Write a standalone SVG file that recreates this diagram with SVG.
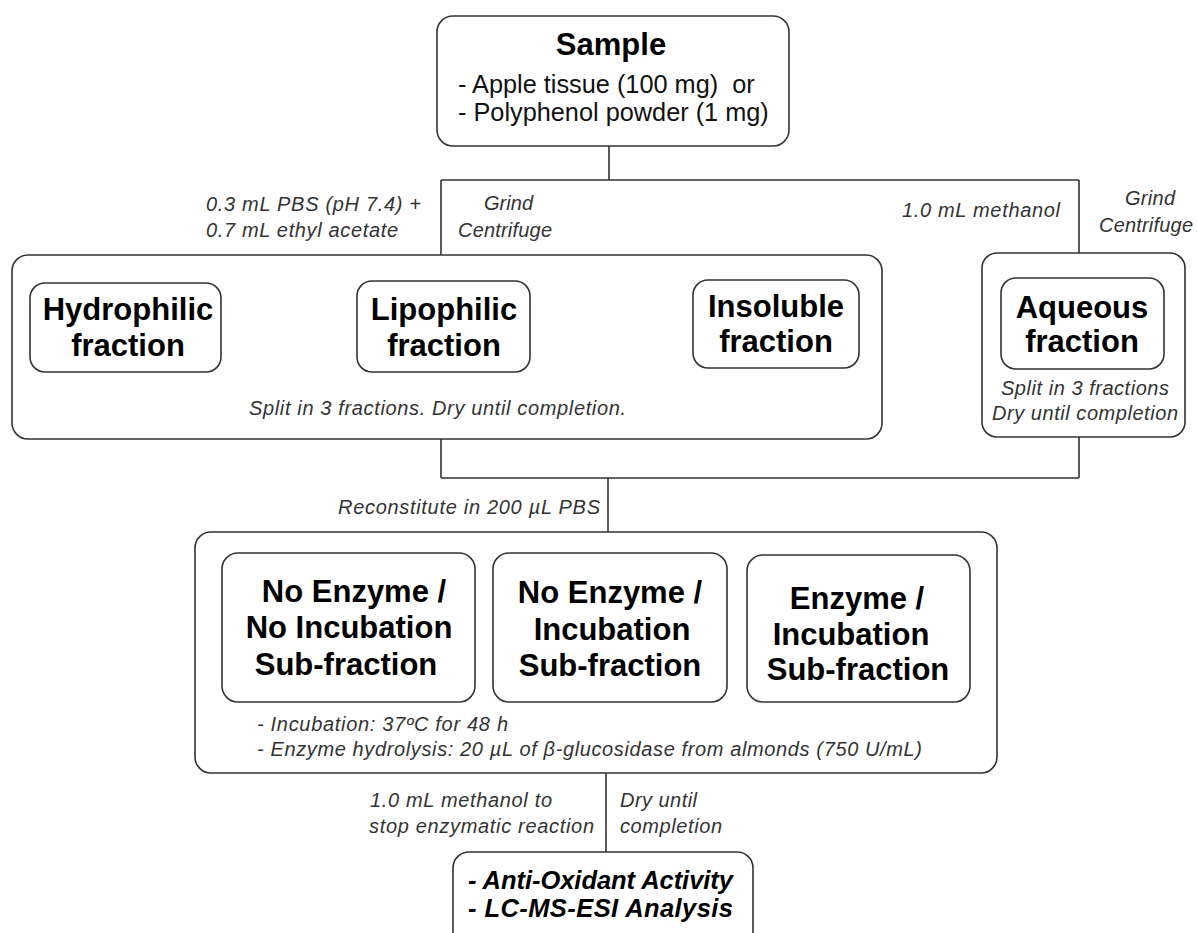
<svg xmlns="http://www.w3.org/2000/svg" width="1197" height="933" viewBox="0 0 1197 933">
<style>
.box{fill:#fff;stroke:#333;stroke-width:1.6}
.ln{fill:none;stroke:#333;stroke-width:1.6}
.b{font-family:"Liberation Sans",Arial,sans-serif;font-weight:bold;font-size:31px;fill:#000;text-anchor:middle}
.r{font-family:"Liberation Sans",Arial,sans-serif;font-size:25.3px;fill:#111}
.i{font-family:"Liberation Sans",Arial,sans-serif;font-style:italic;font-size:20px;fill:#333}
.bi{font-family:"Liberation Sans",Arial,sans-serif;font-style:italic;font-weight:bold;font-size:25.5px;fill:#000}
</style>
<rect width="1197" height="933" fill="#fff"/>
<g id="connectors">
<path class="ln" d="M609 146V180M441 180H1079M441 180V255M1079 180V253"/>
<path class="ln" d="M441 439V478M1079 437V478M441 478H1079M608 478V532"/>
<path class="ln" d="M606 773V852"/>
</g>
<g id="labels">
<text class="i" x="206" y="211" textLength="215" lengthAdjust="spacing">0.3 mL PBS (pH 7.4) +</text>
<text class="i" x="206" y="237" textLength="192" lengthAdjust="spacing">0.7 mL ethyl acetate</text>
<text class="i" x="484" y="210" textLength="49" lengthAdjust="spacing">Grind</text>
<text class="i" x="458" y="237" textLength="94" lengthAdjust="spacing">Centrifuge</text>
<text class="i" x="902" y="217" textLength="158" lengthAdjust="spacing">1.0 mL methanol</text>
<text class="i" x="1125" y="205" textLength="50" lengthAdjust="spacing">Grind</text>
<text class="i" x="1099" y="232" textLength="94" lengthAdjust="spacing">Centrifuge</text>
<text class="i" x="338" y="514" textLength="262" lengthAdjust="spacing">Reconstitute in 200 µL PBS</text>
<text class="i" x="370" y="807" textLength="182" lengthAdjust="spacing">1.0 mL methanol to</text>
<text class="i" x="369" y="833" textLength="225" lengthAdjust="spacing">stop enzymatic reaction</text>
<text class="i" x="620" y="807" textLength="77" lengthAdjust="spacing">Dry until</text>
<text class="i" x="620" y="833" textLength="102" lengthAdjust="spacing">completion</text>
</g>
<g id="sample">
<rect class="box" x="437" y="16" width="352" height="130" rx="16"/>
<text class="b" x="611" y="55">Sample</text>
<text class="r" x="458" y="93" xml:space="preserve">- Apple tissue (100 mg)  or</text>
<text class="r" x="458" y="121">- Polyphenol powder (1 mg)</text>
</g>
<g id="extraction">
<rect class="box" x="12" y="255" width="870" height="184" rx="16"/>
<text class="i" x="249" y="415" textLength="377" lengthAdjust="spacing">Split in 3 fractions. Dry until completion.</text>
</g>
<g id="hydrophilic">
<rect class="box" x="30" y="283" width="191" height="89" rx="15"/>
<text class="b" x="128" y="320">Hydrophilic</text>
<text class="b" x="128" y="356">fraction</text>
</g>
<g id="lipophilic">
<rect class="box" x="357" y="281" width="173" height="91" rx="15"/>
<text class="b" x="444" y="320">Lipophilic</text>
<text class="b" x="444" y="356">fraction</text>
</g>
<g id="insoluble">
<rect class="box" x="693" y="280" width="166" height="88" rx="15"/>
<text class="b" x="776" y="317">Insoluble</text>
<text class="b" x="776" y="352">fraction</text>
</g>
<g id="aqueous-group">
<rect class="box" x="982" y="253" width="203" height="184" rx="15"/>
<text class="i" x="1001" y="395" textLength="168" lengthAdjust="spacing">Split in 3 fractions</text>
<text class="i" x="992" y="420" textLength="186" lengthAdjust="spacing">Dry until completion</text>
</g>
<g id="aqueous">
<rect class="box" x="1001" y="278" width="163" height="91" rx="15"/>
<text class="b" x="1082" y="318">Aqueous</text>
<text class="b" x="1082" y="352">fraction</text>
</g>
<g id="treatment">
<rect class="box" x="195" y="532" width="802" height="241" rx="16"/>
<text class="i" x="257" y="731" textLength="251" lengthAdjust="spacing">- Incubation: 37ºC for 48 h</text>
<text class="i" x="257" y="756" textLength="665" lengthAdjust="spacing">- Enzyme hydrolysis: 20 µL of β-glucosidase from almonds (750 U/mL)</text>
</g>
<g id="sub1">
<rect class="box" x="222" y="553" width="253" height="149" rx="16"/>
<text class="b" x="354" y="602">No Enzyme /</text>
<text class="b" x="349" y="638">No Incubation</text>
<text class="b" x="346" y="675">Sub-fraction</text>
</g>
<g id="sub2">
<rect class="box" x="493" y="553" width="234" height="149" rx="16"/>
<text class="b" x="610" y="603">No Enzyme /</text>
<text class="b" x="612" y="640">Incubation</text>
<text class="b" x="610" y="676">Sub-fraction</text>
</g>
<g id="sub3">
<rect class="box" x="747" y="555" width="223" height="147" rx="16"/>
<text class="b" x="857" y="609">Enzyme /</text>
<text class="b" x="851" y="645">Incubation</text>
<text class="b" x="858" y="680">Sub-fraction</text>
</g>
<g id="analysis">
<rect class="box" x="453" y="852" width="300" height="100" rx="16"/>
<text class="bi" x="468" y="889" textLength="265" lengthAdjust="spacing">- Anti-Oxidant Activity</text>
<text class="bi" x="468" y="917" textLength="265" lengthAdjust="spacing">- LC-MS-ESI Analysis</text>
</g>
</svg>
